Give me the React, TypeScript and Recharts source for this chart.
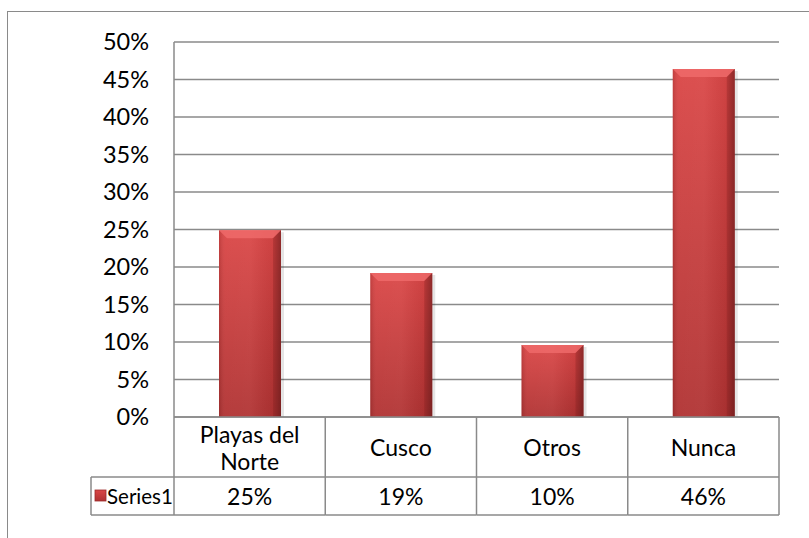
import React from 'react'
import { BarChart, Bar, XAxis, YAxis, CartesianGrid } from 'recharts'

// categories and values
const categories = ['Playas del Norte', 'Cusco', 'Otros', 'Nunca']
const categoryLines = [['Playas del', 'Norte'], ['Cusco'], ['Otros'], ['Nunca']]
const series1 = [0.249, 0.192, 0.096, 0.464]
const valueLabels = ['25%', '19%', '10%', '46%']
const seriesName = 'Series1'
const yTicks = [0, 0.05, 0.1, 0.15, 0.2, 0.25, 0.3, 0.35, 0.4, 0.45, 0.5]

const data = categories.map((c, i) => ({ name: c, value: series1[i] }))

const W = 802
const H = 527
const MARGIN = { top: 30, right: 31, left: 0, bottom: 24 }
const Y_W = 166
const PLOT_W = W - Y_W - MARGIN.right
const BAND = PLOT_W / categories.length
const TABLE_H = 98
const ROW1 = 60
const LEGEND_W = 83
const FONT = 'Lato, "Open Sans", sans-serif'
const LINE = '#8a8a8a'

const BevelBar = (props: any) => {
  const { x, y, width, height } = props
  if (!height || height <= 0) return null
  const b = Math.min(8, width / 4)
  return (
    <g>
      <rect x={x + 3} y={y + 2} width={width} height={height - 2} fill="#000" opacity={0.1} />
      <rect x={x} y={y} width={width} height={height} fill="url(#barV)" />
      <rect x={x} y={y} width={width} height={height} fill="url(#barH)" />
      <polygon points={`${x},${y} ${x + width},${y} ${x + width - b},${y + b} ${x + b},${y + b}`} fill="#ef6a6a" opacity={0.85} />
      <polygon points={`${x + width},${y} ${x + width},${y + height} ${x + width - b},${y + height} ${x + width - b},${y + b}`} fill="#7a1f1f" opacity={0.3} />
    </g>
  )
}

const TableTick = (props: any) => {
  const { x, y, payload, index } = props
  const left = x - BAND / 2
  const right = x + BAND / 2
  const lines = categoryLines[index] || [payload.value]
  const lh = 27
  const startY = y + ROW1 / 2 - ((lines.length - 1) * lh) / 2
  return (
    <g>
      {index === 0 && (
        <g>
          <line x1={left} y1={y} x2={left} y2={y + TABLE_H} stroke={LINE} strokeWidth={1.5} />
          <line x1={left - LEGEND_W} y1={y + ROW1} x2={left} y2={y + ROW1} stroke={LINE} strokeWidth={1.5} />
          <line x1={left - LEGEND_W} y1={y + TABLE_H} x2={left} y2={y + TABLE_H} stroke={LINE} strokeWidth={1.5} />
          <line x1={left - LEGEND_W} y1={y + ROW1} x2={left - LEGEND_W} y2={y + TABLE_H} stroke={LINE} strokeWidth={1.5} />
          <rect x={left - LEGEND_W + 4} y={y + ROW1 + 13} width={11} height={11} fill="url(#barV)" stroke="#9c2a2a" strokeWidth={0.8} />
          <text x={left - LEGEND_W + 16} y={y + ROW1 + 19} dominantBaseline="central" fontSize={20.5} fill="#000" fontFamily={FONT}>
            {seriesName}
          </text>
        </g>
      )}
      <line x1={right} y1={y} x2={right} y2={y + TABLE_H} stroke={LINE} strokeWidth={1.5} />
      <line x1={left} y1={y + ROW1} x2={right} y2={y + ROW1} stroke={LINE} strokeWidth={1.5} />
      <line x1={left} y1={y + TABLE_H} x2={right} y2={y + TABLE_H} stroke={LINE} strokeWidth={1.5} />
      {lines.map((t: string, i: number) => (
        <text key={i} x={x} y={startY + i * lh} textAnchor="middle" dominantBaseline="central" fontSize={23} fill="#000" fontFamily={FONT}>
          {t}
        </text>
      ))}
      <text x={x} y={y + ROW1 + 19} textAnchor="middle" dominantBaseline="central" fontSize={23} fill="#000" fontFamily={FONT}>
        {valueLabels[index]}
      </text>
    </g>
  )
}

export default function App() {
  return (
    <div style={{ position: 'absolute', left: 7, top: 11, width: W, height: H, borderTop: '1.5px solid #8a8a8a', borderLeft: '1.5px solid #8a8a8a', background: '#fff' }}>
      <BarChart width={W} height={H} data={data} margin={MARGIN} barCategoryGap={0}>
        <defs>
          <linearGradient id="barV" x1="0" y1="0" x2="0" y2="1">
            <stop offset="0%" stopColor="#da4646" />
            <stop offset="100%" stopColor="#b03232" />
          </linearGradient>
          <linearGradient id="barH" x1="0" y1="0" x2="1" y2="0">
            <stop offset="0%" stopColor="#000" stopOpacity={0.12} />
            <stop offset="10%" stopColor="#fff" stopOpacity={0.05} />
            <stop offset="50%" stopColor="#fff" stopOpacity={0.06} />
            <stop offset="88%" stopColor="#000" stopOpacity={0.05} />
            <stop offset="100%" stopColor="#000" stopOpacity={0.3} />
          </linearGradient>
        </defs>
        <CartesianGrid vertical={false} stroke={LINE} strokeWidth={1.5} />
        <XAxis
          dataKey="name"
          height={TABLE_H}
          tickLine={false}
          tickSize={0}
          tickMargin={0}
          axisLine={{ stroke: LINE, strokeWidth: 1.5 }}
          tick={<TableTick />}
          interval={0}
        />
        <YAxis
          width={Y_W}
          domain={[0, 0.5]}
          ticks={yTicks}
          tickFormatter={(v: number) => `${Math.round(v * 100)}%`}
          tickLine={false}
          tickSize={0}
          tickMargin={25}
          axisLine={{ stroke: LINE, strokeWidth: 1.5 }}
          tick={{ fontSize: 23.5, fill: '#000', fontFamily: FONT }}
        />
        <Bar dataKey="value" barSize={62} shape={<BevelBar />} isAnimationActive={false} />
      </BarChart>
    </div>
  )
}
